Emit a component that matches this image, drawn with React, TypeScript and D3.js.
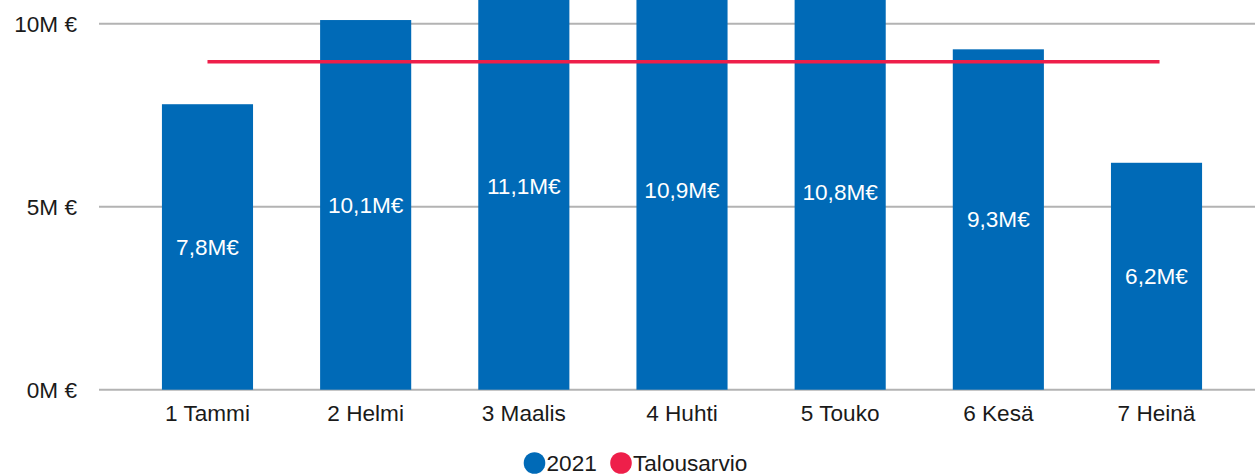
import { useRef, useEffect } from "react";
import * as d3 from "d3";

const months = ["1 Tammi", "2 Helmi", "3 Maalis", "4 Huhti", "5 Touko", "6 Kesä", "7 Heinä"];
const values2021 = [7.8, 10.1, 11.1, 10.9, 10.8, 9.3, 6.2];
const budget = 8.96;
const yTicks = [0, 5, 10];

const width = 1255;
const height = 475;
const font = "'Liberation Sans', Arial, sans-serif";
const fontSize = 22.6;
const blue = "#006ab7";
const red = "#ee1f4a";

export default function App() {
  const svgRef = useRef(null);

  useEffect(() => {
    const svg = d3.select(svgRef.current);
    svg.selectAll("*").remove();

    const x = d3.scaleBand().domain(months).range([128.4, 1235.6]).paddingInner(0.424).paddingOuter(0.212);
    const y = d3.scaleLinear().domain([0, 10]).range([389.7, 23.7]);

    // gridlines
    svg
      .append("g")
      .selectAll("line")
      .data(yTicks)
      .join("line")
      .attr("x1", 99)
      .attr("x2", width)
      .attr("y1", (d) => y(d))
      .attr("y2", (d) => y(d))
      .attr("stroke", "#b3b3b3")
      .attr("stroke-width", 2);

    svg
      .append("g")
      .selectAll("text")
      .data(yTicks)
      .join("text")
      .attr("x", 77)
      .attr("y", (d) => y(d))
      .attr("dy", "0.35em")
      .attr("text-anchor", "end")
      .attr("font-family", font)
      .attr("font-size", fontSize)
      .attr("fill", "#1a1a1a")
      .text((d) => `${d}M €`);

    const bars = svg.append("g");
    bars
      .selectAll("rect")
      .data(values2021)
      .join("rect")
      .attr("x", (_, i) => x(months[i])!)
      .attr("width", x.bandwidth())
      .attr("y", (d) => y(d))
      .attr("height", (d) => y(0) - y(d))
      .attr("fill", blue);

    bars
      .selectAll("text")
      .data(values2021)
      .join("text")
      .attr("x", (_, i) => x(months[i])! + x.bandwidth() / 2)
      .attr("y", (d) => (y(d) + y(0)) / 2)
      .attr("dy", "0.35em")
      .attr("text-anchor", "middle")
      .attr("font-family", font)
      .attr("font-size", fontSize)
      .attr("fill", "#ffffff")
      .text((d) => `${d.toFixed(1).replace(".", ",")}M€`);

    // budget line
    svg
      .append("line")
      .attr("x1", x(months[0])! + x.bandwidth() / 2)
      .attr("x2", x(months[months.length - 1])! + x.bandwidth() / 2 + 3)
      .attr("y1", y(budget))
      .attr("y2", y(budget))
      .attr("stroke", red)
      .attr("stroke-width", 3.5);

    // x labels
    svg
      .append("g")
      .selectAll("text")
      .data(months)
      .join("text")
      .attr("x", (d) => x(d)! + x.bandwidth() / 2)
      .attr("y", 421)
      .attr("text-anchor", "middle")
      .attr("font-family", font)
      .attr("font-size", fontSize)
      .attr("fill", "#1a1a1a")
      .text((d) => d);

    // legend
    const legend = svg.append("g").attr("font-family", font).attr("font-size", fontSize).attr("fill", "#1a1a1a");
    const items = [
      { label: "2021", color: blue, cx: 534.5 },
      { label: "Talousarvio", color: red, cx: 621 },
    ];
    items.forEach((it) => {
      legend.append("circle").attr("cx", it.cx).attr("cy", 463).attr("r", 10.8).attr("fill", it.color);
      legend
        .append("text")
        .attr("x", it.cx + 12)
        .attr("y", 463)
        .attr("dy", "0.35em")
        .text(it.label);
    });
  }, []);

  return (
    <svg
      ref={svgRef}
      width={width}
      height={height}
      style={{ position: "absolute", left: 0, top: 0, background: "#fff" }}
    />
  );
}
